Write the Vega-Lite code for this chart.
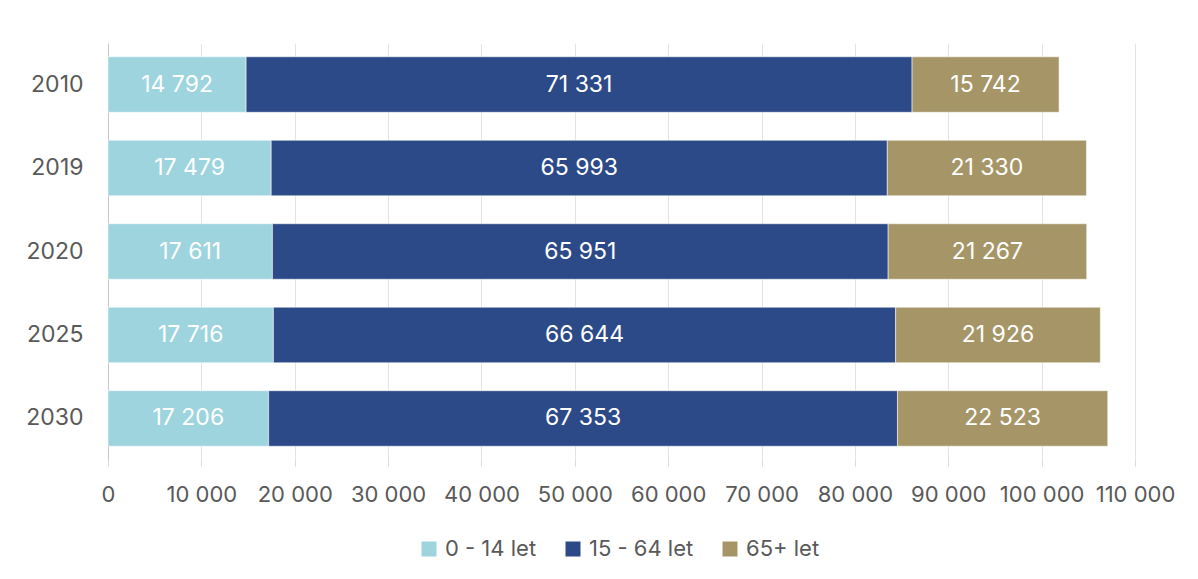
{
  "$schema": "https://vega.github.io/schema/vega-lite/v6.json",
  "autosize": {"type": "none"},
  "padding": {"left": 108, "top": 43, "right": 63, "bottom": 119},
  "width": 1027,
  "height": 417,
  "background": "#ffffff",
  "config": {
    "locale": {"number": {"decimal": ",", "thousands": " ", "grouping": [3], "currency": ["", " Kč"]}},
    "font": "Inter",
    "view": {"stroke": null}
  },
  "data": {
    "values": [
      {"year": "2010", "group": "0 - 14 let", "idx": 1, "value": 14792},
      {"year": "2010", "group": "15 - 64 let", "idx": 2, "value": 71331},
      {"year": "2010", "group": "65+ let", "idx": 3, "value": 15742},
      {"year": "2019", "group": "0 - 14 let", "idx": 1, "value": 17479},
      {"year": "2019", "group": "15 - 64 let", "idx": 2, "value": 65993},
      {"year": "2019", "group": "65+ let", "idx": 3, "value": 21330},
      {"year": "2020", "group": "0 - 14 let", "idx": 1, "value": 17611},
      {"year": "2020", "group": "15 - 64 let", "idx": 2, "value": 65951},
      {"year": "2020", "group": "65+ let", "idx": 3, "value": 21267},
      {"year": "2025", "group": "0 - 14 let", "idx": 1, "value": 17716},
      {"year": "2025", "group": "15 - 64 let", "idx": 2, "value": 66644},
      {"year": "2025", "group": "65+ let", "idx": 3, "value": 21926},
      {"year": "2030", "group": "0 - 14 let", "idx": 1, "value": 17206},
      {"year": "2030", "group": "15 - 64 let", "idx": 2, "value": 67353},
      {"year": "2030", "group": "65+ let", "idx": 3, "value": 22523}
    ]
  },
  "transform": [
    {"stack": "value", "groupby": ["year"], "sort": [{"field": "idx", "order": "ascending"}], "as": ["v0", "v1"]},
    {"calculate": "(datum.v0 + datum.v1) / 2", "as": "mid"}
  ],
  "encoding": {
    "y": {
      "field": "year", "type": "nominal", "title": null,
      "scale": {"paddingInner": 0.335, "paddingOuter": 0.165},
      "axis": {"ticks": false, "domain": true, "domainColor": "#c8c8c8", "domainWidth": 1, "labelFontSize": 23, "labelColor": "#595959", "labelPadding": 25, "labelFont": "Inter"}
    }
  },
  "layer": [
    {
      "mark": {"type": "bar", "stroke": "#ffffff", "strokeWidth": 0.75, "strokeOpacity": 0.7},
      "encoding": {
        "x": {
          "field": "v0", "type": "quantitative", "title": null,
          "scale": {"domain": [0, 110000], "nice": false},
          "axis": {"values": [0, 10000, 20000, 30000, 40000, 50000, 60000, 70000, 80000, 90000, 100000, 110000], "format": ",d", "domain": false, "grid": true, "gridColor": "#e3e3e3", "gridWidth": 1, "tickColor": "#d9d9d9", "tickSize": 6, "labelFontSize": 22, "labelColor": "#595959", "labelPadding": 18, "labelFlush": false, "labelOverlap": false, "labelFont": "Inter"}
        },
        "x2": {"field": "v1"},
        "color": {
          "field": "group", "type": "nominal",
          "scale": {"domain": ["0 - 14 let", "15 - 64 let", "65+ let"], "range": ["#9dd4de", "#2d4a88", "#a69667"]},
          "legend": {"title": null, "orient": "none", "legendX": 310, "legendY": 495, "direction": "horizontal", "symbolType": "square", "symbolSize": 225, "symbolStrokeWidth": 0, "labelFontSize": 22, "labelColor": "#595959", "labelOffset": 5, "columnPadding": 25, "labelFont": "Inter"}
        }
      }
    },
    {
      "mark": {"type": "text", "color": "#ffffff", "fontSize": 23, "font": "Inter", "align": "center", "baseline": "middle"},
      "encoding": {
        "x": {"field": "mid", "type": "quantitative"},
        "text": {"field": "value", "type": "quantitative", "format": ",d"}
      }
    }
  ]
}
